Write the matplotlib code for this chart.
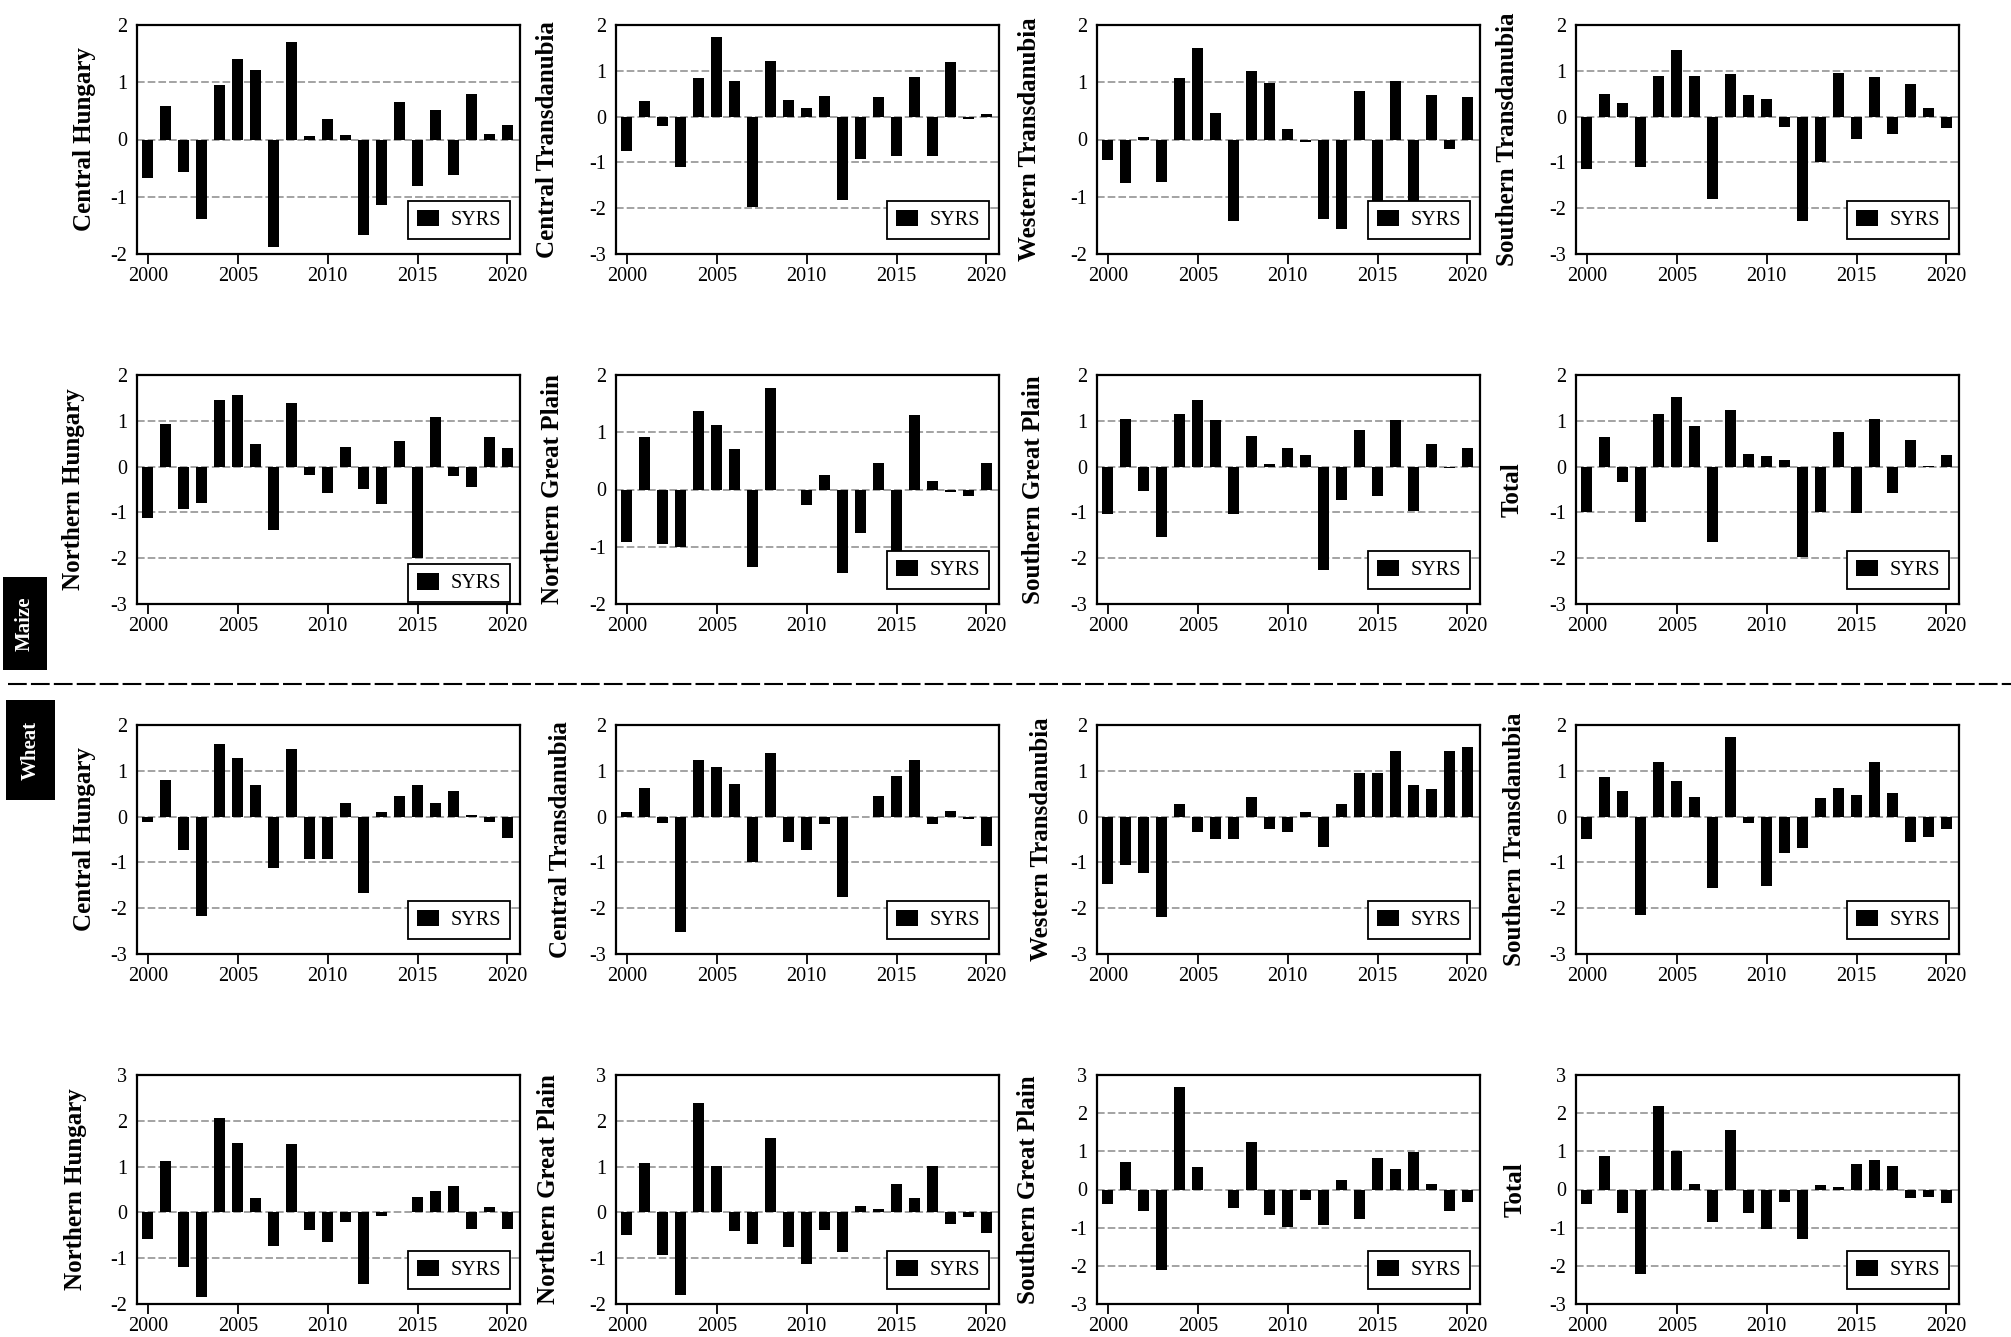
import numpy as np
import matplotlib.pyplot as plt
from matplotlib.patches import Rectangle
from matplotlib.lines import Line2D

plt.rcParams['font.family'] = ['Liberation Serif', 'DejaVu Serif']
plt.rcParams['axes.unicode_minus'] = False

years = list(range(2000, 2021))
xticks = [2000, 2005, 2010, 2015, 2020]
legend_label = "SYRS"

names_a = ["Central Hungary", "Central Transdanubia", "Western Transdanubia", "Southern Transdanubia"]
names_b = ["Northern Hungary", "Northern Great Plain", "Southern Great Plain", "Total"]

# maize
maize_central_hungary = [-0.67, 0.58, -0.56, -1.39, 0.95, 1.40, 1.22, -1.87, 1.70, 0.06, 0.36,
                         0.08, -1.67, -1.15, 0.65, -0.81, 0.52, -0.62, 0.79, 0.10, 0.26]
maize_central_transdanubia = [-0.75, 0.34, -0.20, -1.09, 0.84, 1.74, 0.78, -1.98, 1.21, 0.36, 0.18,
                              0.44, -1.83, -0.93, 0.42, -0.85, 0.87, -0.86, 1.19, -0.06, 0.05]
maize_western_transdanubia = [-0.36, -0.76, 0.05, -0.74, 1.07, 1.60, 0.46, -1.43, 1.20, 0.98, 0.18,
                              -0.05, -1.38, -1.56, 0.85, -1.30, 1.03, -1.25, 0.78, -0.16, 0.75]
maize_southern_transdanubia = [-1.14, 0.49, 0.30, -1.09, 0.89, 1.45, 0.89, -1.79, 0.94, 0.47, 0.39,
                               -0.23, -2.29, -0.99, 0.96, -0.50, 0.86, -0.39, 0.72, 0.18, -0.24]
maize_northern_hungary = [-1.13, 0.93, -0.93, -0.80, 1.45, 1.56, 0.49, -1.39, 1.39, -0.18, -0.57,
                          0.42, -0.50, -0.81, 0.56, -1.99, 1.08, -0.20, -0.44, 0.65, 0.41]
maize_northern_great_plain = [-0.91, 0.92, -0.95, -1.01, 1.37, 1.12, 0.71, -1.35, 1.78, -0.01, -0.27,
                              0.26, -1.46, -0.76, 0.47, -1.40, 1.31, 0.15, -0.04, -0.12, 0.46]
maize_southern_great_plain = [-1.03, 1.04, -0.53, -1.53, 1.15, 1.45, 1.01, -1.04, 0.67, 0.06, 0.41,
                              0.26, -2.25, -0.72, 0.81, -0.65, 1.02, -0.97, 0.50, -0.02, 0.40]
maize_total = [-0.99, 0.64, -0.33, -1.22, 1.15, 1.53, 0.89, -1.64, 1.23, 0.28, 0.23,
               0.15, -1.98, -0.99, 0.76, -1.01, 1.05, -0.57, 0.57, 0.02, 0.25]

# wheat
wheat_central_hungary = [-0.11, 0.79, -0.73, -2.18, 1.59, 1.29, 0.70, -1.13, 1.48, -0.92, -0.92,
                         0.29, -1.67, 0.10, 0.44, 0.68, 0.29, 0.55, 0.04, -0.12, -0.46]
wheat_central_transdanubia = [0.10, 0.62, -0.15, -2.53, 1.23, 1.08, 0.71, -1.00, 1.38, -0.55, -0.74,
                              -0.17, -1.76, -0.01, 0.44, 0.89, 1.23, -0.17, 0.12, -0.06, -0.65]
wheat_western_transdanubia = [-1.47, -1.05, -1.23, -2.19, 0.27, -0.34, -0.49, -0.49, 0.42, -0.26, -0.33,
                              0.10, -0.66, 0.28, 0.95, 0.95, 1.43, 0.69, 0.61, 1.43, 1.51]
wheat_southern_transdanubia = [-0.49, 0.87, 0.55, -2.15, 1.20, 0.78, 0.42, -1.55, 1.73, -0.15, -1.51,
                               -0.80, -0.68, 0.41, 0.63, 0.47, 1.20, 0.52, -0.56, -0.45, -0.26]
wheat_northern_hungary = [-0.59, 1.12, -1.20, -1.85, 2.07, 1.52, 0.31, -0.74, 1.50, -0.38, -0.65,
                          -0.21, -1.57, -0.07, 0.0, 0.33, 0.47, 0.58, -0.36, 0.12, -0.37]
wheat_northern_great_plain = [-0.49, 1.07, -0.93, -1.80, 2.39, 1.01, -0.40, -0.68, 1.63, -0.76, -1.12,
                              -0.38, -0.87, 0.15, 0.07, 0.61, 0.31, 1.01, -0.26, -0.09, -0.44]
wheat_southern_great_plain = [-0.39, 0.72, -0.57, -2.10, 2.68, 0.60, 0.0, -0.49, 1.25, -0.68, -0.99,
                              -0.27, -0.92, 0.24, -0.77, 0.83, 0.54, 0.98, 0.14, -0.56, -0.32]
wheat_total = [-0.39, 0.89, -0.61, -2.22, 2.20, 1.02, 0.14, -0.84, 1.55, -0.62, -1.04,
               -0.32, -1.30, 0.11, 0.07, 0.66, 0.76, 0.61, -0.22, -0.20, -0.35]

panels = [maize_central_hungary, maize_central_transdanubia, maize_western_transdanubia, maize_southern_transdanubia,
          maize_northern_hungary, maize_northern_great_plain, maize_southern_great_plain, maize_total,
          wheat_central_hungary, wheat_central_transdanubia, wheat_western_transdanubia, wheat_southern_transdanubia,
          wheat_northern_hungary, wheat_northern_great_plain, wheat_southern_great_plain, wheat_total]
labels = names_a + names_b + names_a + names_b
ylims = [(-2, 2), (-3, 2), (-2, 2), (-3, 2),
         (-3, 2), (-2, 2), (-3, 2), (-3, 2),
         (-3, 2), (-3, 2), (-3, 2), (-3, 2),
         (-2, 3), (-2, 3), (-3, 3), (-3, 3)]
# ylabel x position (axes fraction)
label_x = [-0.136, -0.180, -0.175, -0.180,
           -0.165, -0.165, -0.167, -0.167,
           -0.138, -0.146, -0.144, -0.160,
           -0.160, -0.175, -0.180, -0.160]

W, H = 2011, 1337
fig = plt.figure(figsize=(W / 100, H / 100), dpi=100)

col_left = [137, 616, 1097, 1576]
row_top = [25, 375, 725, 1075]
ax_w, ax_h = 383, 229

for i, vals in enumerate(panels):
    r, c = divmod(i, 4)
    ax = fig.add_axes([col_left[c] / W, 1 - (row_top[r] + ax_h) / H, ax_w / W, ax_h / H])
    ax.bar(years, vals, width=0.62, color='black', label=legend_label, zorder=3)
    lo, hi = ylims[i]
    ax.set_ylim(lo, hi)
    ax.set_xlim(1999.4, 2020.7)
    ax.set_yticks(range(lo, hi + 1))
    ax.set_xticks(xticks)
    for v in range(lo + 1, hi):
        ax.axhline(v, color='#8a8a8a', lw=1.1, ls=(0, (5, 2)), zorder=1)
    ax.tick_params(axis='y', length=0, pad=7, labelsize=14.5)
    ax.tick_params(axis='x', length=7, width=1.3, pad=2.5, labelsize=14.5)
    for s in ax.spines.values():
        s.set_linewidth(1.6)
    ax.set_ylabel(labels[i], fontsize=18, fontweight='bold', va='center')
    ax.yaxis.set_label_coords(label_x[i], 0.5)
    # the maize Northern Hungary legend sits lower, below the -2 line
    leg_y = 0.008 if i == 4 else 0.065
    leg = ax.legend(loc='lower right', bbox_to_anchor=(0.975, leg_y), borderaxespad=0,
                    fontsize=14.5, fancybox=False, framealpha=1, edgecolor='black',
                    handlelength=1.1, handleheight=0.9, handletextpad=0.6, borderpad=0.45)
    leg.get_frame().set_linewidth(1.3)

# crop tags
for (x0, y0, x1, y1), txt in [((3, 577, 47, 670), "Maize"), ((6, 700, 55, 800), "Wheat")]:
    fig.patches.append(Rectangle((x0 / W, 1 - y1 / H), (x1 - x0) / W, (y1 - y0) / H,
                                 transform=fig.transFigure, facecolor='black', edgecolor='none'))
    fig.text((x0 + x1) / 2 / W, 1 - (y0 + y1) / 2 / H, txt, color='white', fontsize=15,
             fontweight='bold', rotation=90, ha='center', va='center')

# separator between maize and wheat
fig.add_artist(Line2D([0.004, 1.0], [1 - 684 / H, 1 - 684 / H], transform=fig.transFigure,
                      color='black', lw=1.5, ls=(0, (9, 2))))

fig.savefig('out.png', dpi=100)
